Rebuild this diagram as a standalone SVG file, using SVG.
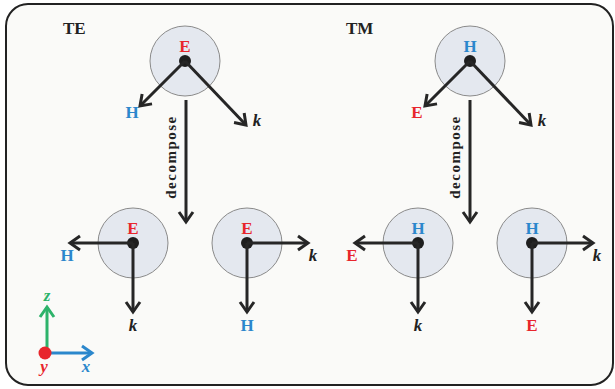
<svg xmlns="http://www.w3.org/2000/svg" width="615" height="389" viewBox="0 0 615 389">
  <style>
    .frame { fill: #fafaf8; stroke: #222; stroke-width: 2; }
    .disc { fill: #e4e8ef; stroke: #8a8a8a; stroke-width: 1; }
    .dot { fill: #1e1e1e; }
    .vec { stroke: #262626; stroke-width: 3; fill: none; marker-end: url(#head); }
    .lbl { font-family: "Liberation Serif", "Times New Roman", serif; font-weight: bold; font-size: 17px; text-anchor: middle; }
    .e { fill: #e8262c; }
    .h { fill: #2b87cc; }
    .k { fill: #222; font-style: italic; }
    .title { font-family: "Liberation Serif", "Times New Roman", serif; font-weight: bold; font-size: 17px; fill: #222; }
    .dec { font-family: "Liberation Serif", "Times New Roman", serif; font-weight: bold; font-size: 15px; fill: #222; letter-spacing: 1.5px; text-anchor: middle; }
  </style>
  <defs>
    <marker id="head" markerUnits="userSpaceOnUse" viewBox="-13 -9 16 18" markerWidth="16" markerHeight="18" refX="0" refY="0" orient="auto">
      <path d="M-10,-7 L0,0 L-10,7" fill="none" stroke="#262626" stroke-width="3"/>
    </marker>
    <marker id="headB" markerUnits="userSpaceOnUse" viewBox="-13 -9 16 18" markerWidth="16" markerHeight="18" refX="0" refY="0" orient="auto">
      <path d="M-10,-7 L0,0 L-10,7" fill="none" stroke="#2b87cc" stroke-width="3"/>
    </marker>
    <marker id="headG" markerUnits="userSpaceOnUse" viewBox="-13 -9 16 18" markerWidth="16" markerHeight="18" refX="0" refY="0" orient="auto">
      <path d="M-10,-7 L0,0 L-10,7" fill="none" stroke="#2db36a" stroke-width="3"/>
    </marker>
  </defs>

  <rect class="frame" x="6" y="4" width="607" height="381" rx="22"/>

  <text class="title" x="63" y="34">TE</text>
  <text class="title" x="346" y="34">TM</text>

  <!-- field discs -->
  <g id="te-wave">
    <circle class="disc" cx="185" cy="61" r="35"/>
    <text class="lbl e" x="185" y="52">E</text>
    <circle class="dot" cx="185" cy="61" r="6"/>
    <text class="lbl h" x="132" y="118">H</text>
    <text class="lbl k" x="257" y="126">k</text>
  </g>
  <g id="te-part1">
    <circle class="disc" cx="133" cy="243" r="35"/>
    <text class="lbl e" x="133" y="234">E</text>
    <circle class="dot" cx="133" cy="243" r="6"/>
    <text class="lbl h" x="67" y="261">H</text>
    <text class="lbl k" x="133" y="331">k</text>
  </g>
  <g id="te-part2">
    <circle class="disc" cx="247" cy="243" r="35"/>
    <text class="lbl e" x="247" y="234">E</text>
    <circle class="dot" cx="247" cy="243" r="6"/>
    <text class="lbl k" x="313" y="261">k</text>
    <text class="lbl h" x="247" y="331">H</text>
  </g>
  <g id="tm-wave">
    <circle class="disc" cx="470" cy="61" r="35"/>
    <text class="lbl h" x="470" y="52">H</text>
    <circle class="dot" cx="470" cy="61" r="6"/>
    <text class="lbl e" x="417" y="118">E</text>
    <text class="lbl k" x="542" y="126">k</text>
  </g>
  <g id="tm-part1">
    <circle class="disc" cx="418" cy="243" r="35"/>
    <text class="lbl h" x="418" y="234">H</text>
    <circle class="dot" cx="418" cy="243" r="6"/>
    <text class="lbl e" x="352" y="261">E</text>
    <text class="lbl k" x="418" y="331">k</text>
  </g>
  <g id="tm-part2">
    <circle class="disc" cx="532" cy="243" r="35"/>
    <text class="lbl h" x="532" y="234">H</text>
    <circle class="dot" cx="532" cy="243" r="6"/>
    <text class="lbl k" x="597" y="261">k</text>
    <text class="lbl e" x="532" y="331">E</text>
  </g>

  <!-- vectors -->
  <g id="connectors">
    <line class="vec" x1="185" y1="61" x2="140" y2="106"/>
    <line class="vec" x1="185" y1="61" x2="246" y2="125"/>
    <line class="vec" x1="186" y1="100" x2="186" y2="222"/>
    <line class="vec" x1="133" y1="243" x2="70" y2="243"/>
    <line class="vec" x1="133" y1="243" x2="133" y2="312"/>
    <line class="vec" x1="247" y1="243" x2="308" y2="243"/>
    <line class="vec" x1="247" y1="243" x2="247" y2="312"/>

    <line class="vec" x1="470" y1="61" x2="425" y2="106"/>
    <line class="vec" x1="470" y1="61" x2="531" y2="125"/>
    <line class="vec" x1="470" y1="100" x2="470" y2="222"/>
    <line class="vec" x1="418" y1="243" x2="355" y2="243"/>
    <line class="vec" x1="418" y1="243" x2="418" y2="312"/>
    <line class="vec" x1="532" y1="243" x2="593" y2="243"/>
    <line class="vec" x1="532" y1="243" x2="532" y2="312"/>
  </g>

  <text class="dec" transform="translate(176,157) rotate(-90)">decompose</text>
  <text class="dec" transform="translate(460,157) rotate(-90)">decompose</text>

  <!-- coordinate axes -->
  <g id="axes">
    <line x1="47" y1="353" x2="47" y2="307" stroke="#2db36a" stroke-width="3" marker-end="url(#headG)"/>
    <line x1="47" y1="353" x2="92" y2="353" stroke="#2b87cc" stroke-width="3" marker-end="url(#headB)"/>
    <circle cx="45" cy="353" r="6.5" fill="#e8262c"/>
    <text class="lbl" x="47" y="301" fill="#2db36a" font-style="italic">z</text>
    <text class="lbl" x="86" y="372" fill="#2b87cc" font-style="italic">x</text>
    <text class="lbl e" x="44" y="372" font-style="italic">y</text>
  </g>
</svg>
